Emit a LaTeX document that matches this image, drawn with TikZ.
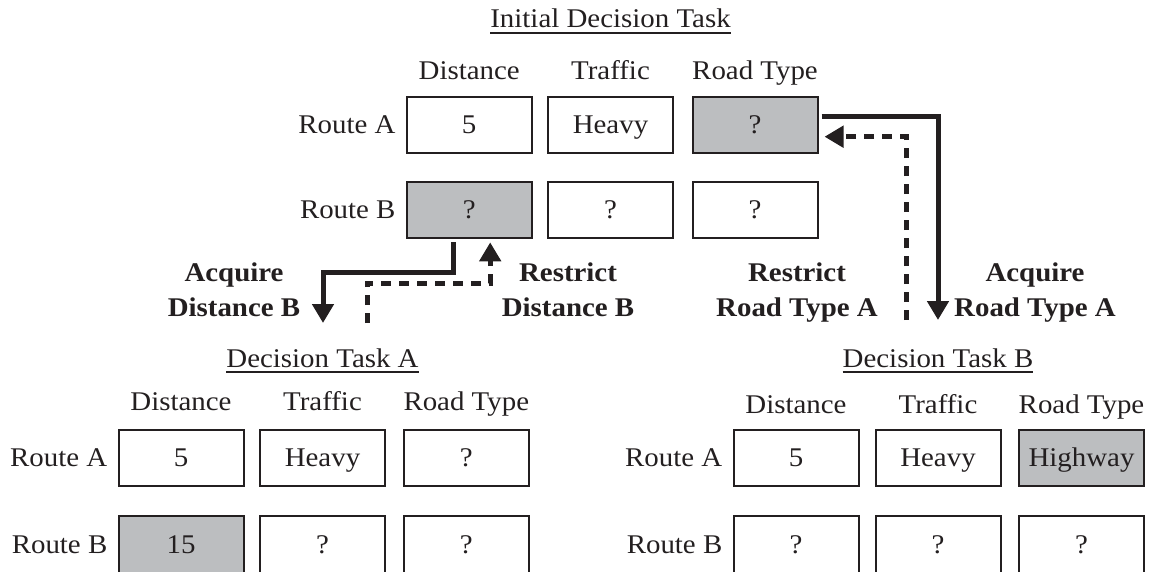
\documentclass[tikz,border=0pt]{standalone}
\usepackage{fontspec}
\setmainfont{Liberation Serif}[FakeStretch=1.07]
\usetikzlibrary{arrows.meta}
\definecolor{boxfill}{RGB}{188,190,192}
\definecolor{ink}{RGB}{35,31,32}
\tikzset{
  txt/.style={font=\fontsize{27}{33}\selectfont, inner sep=0pt, text=ink},
  cell/.style={txt, draw=ink, line width=2pt, minimum width=125pt, minimum height=56.6pt,
               text height=17.9pt, text depth=0pt, fill=white},
  shaded/.style={cell, fill=boxfill},
  rowlab/.style={txt, anchor=east, text height=17.9pt, text depth=0pt},
  head/.style={txt, anchor=base},
  ttl/.style={txt, anchor=base},
  uline/.style={draw=ink, line width=1.8pt},
  act/.style={font=\fontsize{27}{35}\selectfont\bfseries, align=center, anchor=base,
              inner sep=0pt, text=ink},
  solidarr/.style={draw=ink, line width=5pt, -{Triangle[width=21pt,length=19pt]}},
  dasharr/.style={solidarr, dash pattern=on 10pt off 8pt},
}
\begin{document}
\begin{tikzpicture}[x=1pt,y=-1pt]
\useasboundingbox (0,0) rectangle (1156,571);
\path[clip] (0,0) rectangle (1156,571);

% ---------- Initial decision task ----------
\node[ttl] (t0) at (610.5,27.5) {Initial Decision Task};
\draw[uline] ([yshift=-5.5pt]t0.base west) -- ([yshift=-5.5pt]t0.base east);
\node[head] (iH1) at (469.2,79.3) {Distance};
\node[head] (iH2) at (610.5,79.3) {Traffic};
\node[head] (iH3) at (755,79.3) {Road Type};
\node[cell]   (iA1) at (469.2,125) {5};
\node[cell]   (iA2) at (610.5,125) {Heavy};
\node[shaded] (iA3) at (755,125) {?};
\node[shaded] (iB1) at (469.2,210) {?};
\node[cell]   (iB2) at (610.5,210) {?};
\node[cell]   (iB3) at (755,210) {?};
\node[rowlab] (iRA) at ([xshift=-10pt]iA1.west) {Route A};
\node[rowlab] (iRB) at ([xshift=-10pt]iB1.west) {Route B};

% ---------- Decision task A ----------
\node[ttl] (tA) at (322.5,367) {Decision Task A};
\draw[uline] ([yshift=-5pt]tA.base west) -- ([yshift=-5pt]tA.base east);
\node[head] (aH1) at (181,410) {Distance};
\node[head] (aH2) at (322.5,410) {Traffic};
\node[head] (aH3) at (466.3,410) {Road Type};
\node[cell]   (aA1) at (181,458) {5};
\node[cell]   (aA2) at (322.5,458) {Heavy};
\node[cell]   (aA3) at (466.3,458) {?};
\node[shaded] (aB1) at (181,544.3) {15};
\node[cell]   (aB2) at (322.5,544.3) {?};
\node[cell]   (aB3) at (466.3,544.3) {?};
\node[rowlab] (aRA) at ([xshift=-10pt]aA1.west) {Route A};
\node[rowlab] (aRB) at ([xshift=-10pt]aB1.west) {Route B};

% ---------- Decision task B ----------
\node[ttl] (tB) at (938,367) {Decision Task B};
\draw[uline] ([yshift=-5pt]tB.base west) -- ([yshift=-5pt]tB.base east);
\node[head] (bH1) at (796,413) {Distance};
\node[head] (bH2) at (938,413) {Traffic};
\node[head] (bH3) at (1081.5,413) {Road Type};
\node[cell]   (bA1) at (796,458) {5};
\node[cell]   (bA2) at (938,458) {Heavy};
\node[shaded] (bA3) at (1081.5,458) {Highway};
\node[cell]   (bB1) at (796,544.3) {?};
\node[cell]   (bB2) at (938,544.3) {?};
\node[cell]   (bB3) at (1081.5,544.3) {?};
\node[rowlab] (bRA) at ([xshift=-10pt]bA1.west) {Route A};
\node[rowlab] (bRB) at ([xshift=-10pt]bB1.west) {Route B};

% ---------- action labels (anchor = baseline of last line) ----------
\node[act] (lAqD) at (234,316.7) {Acquire\\Distance B};
\node[act] (lReD) at (568,316.7) {Restrict\\Distance B};
\node[act] (lReR) at (797,316.7) {Restrict\\Road Type A};
\node[act] (lAqR) at (1035,316.7) {Acquire\\Road Type A};

% ---------- connectors ----------
\coordinate (lsEnd) at (323,323);
\coordinate (ldStart) at (367,323);
\coordinate (rsEnd) at (938,320);
\coordinate (rdStart) at (906.7,320);

\draw[solidarr] ([xshift=-16pt,yshift=-3pt]iB1.south) -- ++(0,30.4) -| (lsEnd);
\draw[dasharr] (ldStart) -- ++(0,-40) -| ([xshift=21pt,yshift=-3pt]iB1.south);
\draw[solidarr] ([xshift=3pt,yshift=9pt]iA3.east) -| (rsEnd);
\draw[dasharr] (rdStart) |- ([xshift=6pt,yshift=-11.7pt]iA3.east);
\end{tikzpicture}
\end{document}
